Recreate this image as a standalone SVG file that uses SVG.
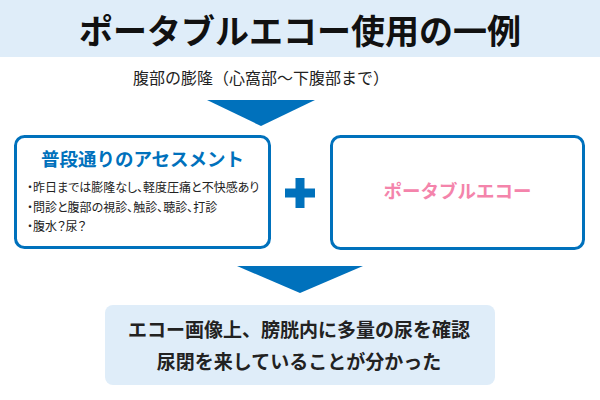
<svg xmlns="http://www.w3.org/2000/svg" width="600" height="400" viewBox="0 0 600 400">
<style>
text{font-family:"Noto Sans CJK JP","Noto Sans CJK SC",sans-serif;}
.box{fill:#ffffff;stroke:#0071bc;stroke-width:3;}
.arrow{fill:#0071bc;}
.bul{font-size:12px;fill:#222;font-feature-settings:"palt";}
.res{font-size:19px;font-weight:bold;fill:#222;text-anchor:middle;}
</style>
<rect x="0" y="0" width="600" height="57" fill="#dfedf9"/>
<text x="300" y="44" font-size="34" font-weight="bold" text-anchor="middle" fill="#111">ポータブルエコー使用の一例</text>
<text x="261" y="84" font-size="16" text-anchor="middle" fill="#222">腹部の膨隆（心窩部〜下腹部まで）</text>
<g id="connectors">
<polygon class="arrow" points="207,100 315,100 261,126"/>
<polygon class="arrow" points="237,266 363,266 300,293"/>
</g>
<g id="assessment">
<rect class="box" x="15.5" y="136.5" width="254" height="111" rx="9"/>
<text x="142.5" y="166" font-size="18.5" font-weight="bold" text-anchor="middle" fill="#0071bc">普段通りのアセスメント</text>
<text class="bul" x="27" y="192">・昨日までは膨隆なし、軽度圧痛と不快感あり</text>
<text class="bul" x="27" y="211.5">・問診と腹部の視診、触診、聴診、打診</text>
<text class="bul" x="27" y="231">・腹水？尿？</text>
</g>
<g id="plus">
<rect x="285" y="188.5" width="30" height="9" fill="#0071bc"/>
<rect x="295.5" y="178" width="9" height="30" fill="#0071bc"/>
</g>
<g id="echo">
<rect class="box" x="331.5" y="136.5" width="252" height="112" rx="9"/>
<text x="457.5" y="198" font-size="18.5" font-weight="bold" text-anchor="middle" fill="#f484ab">ポータブルエコー</text>
</g>
<g id="result">
<rect x="105" y="305" width="390" height="80" rx="8" fill="#dfedf9"/>
<text class="res" x="299" y="337">エコー画像上、膀胱内に多量の尿を確認</text>
<text class="res" x="299" y="369">尿閉を来していることが分かった</text>
</g>
</svg>
